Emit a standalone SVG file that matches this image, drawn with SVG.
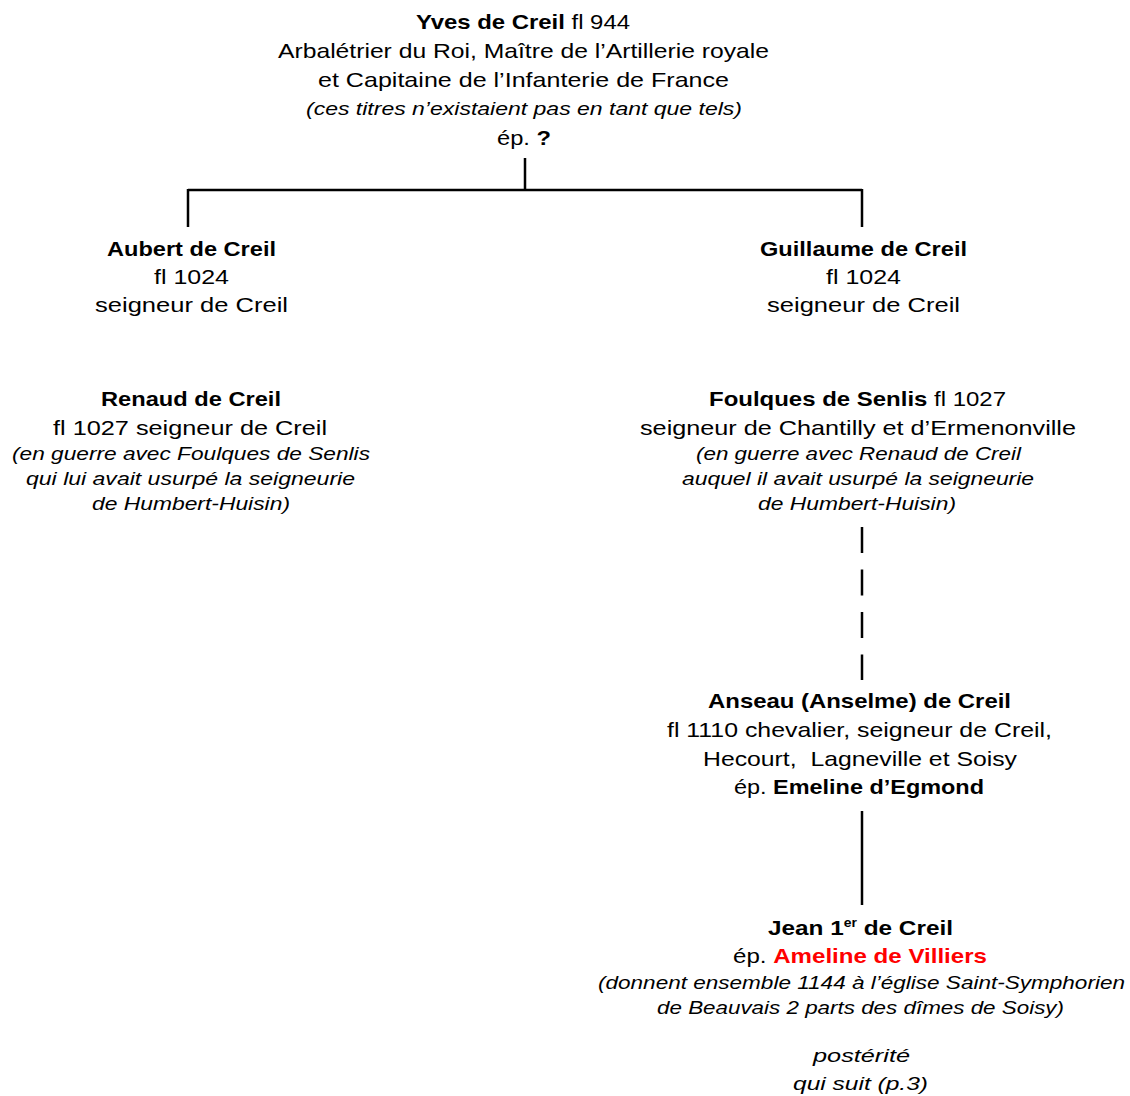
<svg xmlns="http://www.w3.org/2000/svg" width="1130" height="1096" viewBox="0 0 1130 1096">
<style>
text{font-family:"Liberation Sans",Arial,sans-serif;font-size:21px;fill:#000;text-anchor:middle}
.b{font-weight:bold}
.i{font-style:italic;font-size:18px}
.r{fill:#ff0000;font-weight:bold}
.c{stroke:#000;stroke-width:2.5;fill:none}
.d{stroke:#000;stroke-width:2.5;fill:none;stroke-dasharray:26 16.5}
</style>
<rect width="1130" height="1096" fill="#fff"/>
<g id="connectors">
<path class="c" d="M525 158V190M188 190H862M188 189V227M862 189V227"/>
<path class="d" d="M862 527V680"/>
<path class="c" d="M862 811V905"/>
</g>
<g id="yves">
<text x="523" y="29" textLength="214" lengthAdjust="spacingAndGlyphs"><tspan class="b">Yves de Creil</tspan> fl 944</text>
<text x="523.5" y="58" textLength="491" lengthAdjust="spacingAndGlyphs">Arbalétrier du Roi, Maître de l’Artillerie royale</text>
<text x="523.5" y="87" textLength="411" lengthAdjust="spacingAndGlyphs">et Capitaine de l’Infanterie de France</text>
<text class="i" x="524" y="115" textLength="436" lengthAdjust="spacingAndGlyphs">(ces titres n’existaient pas en tant que tels)</text>
<text x="524" y="145" textLength="54" lengthAdjust="spacingAndGlyphs">ép. <tspan class="b">?</tspan></text>
</g>
<g id="aubert">
<text class="b" x="191.5" y="256" textLength="169" lengthAdjust="spacingAndGlyphs">Aubert de Creil</text>
<text x="191.5" y="284" textLength="75" lengthAdjust="spacingAndGlyphs">fl 1024</text>
<text x="191.5" y="312" textLength="193" lengthAdjust="spacingAndGlyphs">seigneur de Creil</text>
</g>
<g id="guillaume">
<text class="b" x="863.5" y="256" textLength="207" lengthAdjust="spacingAndGlyphs">Guillaume de Creil</text>
<text x="863.5" y="284" textLength="75" lengthAdjust="spacingAndGlyphs">fl 1024</text>
<text x="863.5" y="312" textLength="193" lengthAdjust="spacingAndGlyphs">seigneur de Creil</text>
</g>
<g id="renaud">
<text class="b" x="191" y="406" textLength="180" lengthAdjust="spacingAndGlyphs">Renaud de Creil</text>
<text x="190" y="435" textLength="274" lengthAdjust="spacingAndGlyphs">fl 1027 seigneur de Creil</text>
<text class="i" x="191" y="460" textLength="358" lengthAdjust="spacingAndGlyphs">(en guerre avec Foulques de Senlis</text>
<text class="i" x="190.5" y="485" textLength="329" lengthAdjust="spacingAndGlyphs">qui lui avait usurpé la seigneurie</text>
<text class="i" x="191" y="510" textLength="198" lengthAdjust="spacingAndGlyphs">de Humbert-Huisin)</text>
</g>
<g id="foulques">
<text x="857.5" y="406" textLength="297" lengthAdjust="spacingAndGlyphs"><tspan class="b">Foulques de Senlis</tspan> fl 1027</text>
<text x="858" y="435" textLength="436" lengthAdjust="spacingAndGlyphs">seigneur de Chantilly et d’Ermenonville</text>
<text class="i" x="858.5" y="460" textLength="325" lengthAdjust="spacingAndGlyphs">(en guerre avec Renaud de Creil</text>
<text class="i" x="858" y="485" textLength="352" lengthAdjust="spacingAndGlyphs">auquel il avait usurpé la seigneurie</text>
<text class="i" x="857" y="510" textLength="198" lengthAdjust="spacingAndGlyphs">de Humbert-Huisin)</text>
</g>
<g id="anseau">
<text class="b" x="859.5" y="708" textLength="303" lengthAdjust="spacingAndGlyphs">Anseau (Anselme) de Creil</text>
<text x="859.5" y="737" textLength="385" lengthAdjust="spacingAndGlyphs">fl 1110 chevalier, seigneur de Creil,</text>
<text x="860" y="766" textLength="314" lengthAdjust="spacingAndGlyphs">Hecourt,&#160; Lagneville et Soisy</text>
<text x="859" y="794" textLength="250" lengthAdjust="spacingAndGlyphs">ép. <tspan class="b">Emeline d’Egmond</tspan></text>
</g>
<g id="jean">
<text class="b" x="860.5" y="935" textLength="185" lengthAdjust="spacingAndGlyphs">Jean 1<tspan font-size="12" dy="-8">er</tspan><tspan dy="8"> de Creil</tspan></text>
<text x="860" y="963" textLength="254" lengthAdjust="spacingAndGlyphs">ép. <tspan class="r">Ameline de Villiers</tspan></text>
<text class="i" x="861.5" y="989" textLength="527" lengthAdjust="spacingAndGlyphs">(donnent ensemble 1144 à l’église Saint-Symphorien</text>
<text class="i" x="860.5" y="1014" textLength="407" lengthAdjust="spacingAndGlyphs">de Beauvais 2 parts des dîmes de Soisy)</text>
<text class="i" x="861.5" y="1062" textLength="97" lengthAdjust="spacingAndGlyphs">postérité</text>
<text class="i" x="860.5" y="1090" textLength="135" lengthAdjust="spacingAndGlyphs">qui suit (p.3)</text>
</g>
</svg>
